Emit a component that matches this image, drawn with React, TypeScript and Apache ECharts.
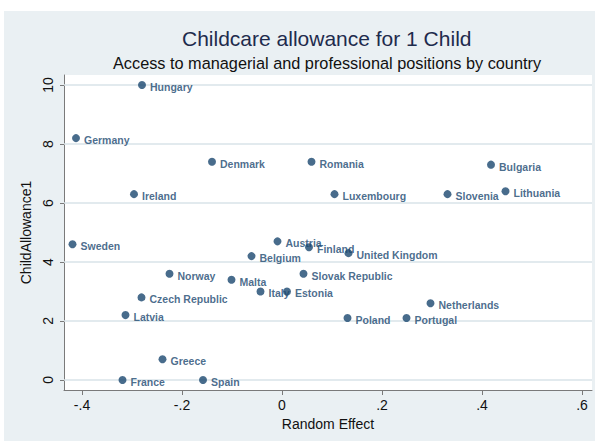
import React, { useEffect, useRef } from "react";
import * as echarts from "echarts";

// Country names, random effect (x) and child allowance (y)
const countries = [
  "Hungary", "Germany", "Denmark", "Ireland", "Romania", "Bulgaria", "Luxembourg",
  "Slovenia", "Lithuania", "Sweden", "Austria", "Finland", "United Kingdom", "Belgium",
  "Slovak Republic", "Malta", "Italy", "Estonia", "Norway", "Czech Republic", "Latvia",
  "Greece", "France", "Spain", "Netherlands", "Poland", "Portugal",
];
const randomEffect = [
  -0.28, -0.412, -0.14, -0.296, 0.059, 0.418, 0.105,
  0.331, 0.447, -0.419, -0.009, 0.054, 0.133, -0.061,
  0.043, -0.101, -0.043, 0.01, -0.225, -0.281, -0.313,
  -0.239, -0.319, -0.158, 0.297, 0.131, 0.249,
];
const childAllowance = [
  10.0, 8.2, 7.4, 6.3, 7.4, 7.3, 6.3,
  6.3, 6.4, 4.6, 4.7, 4.5, 4.3, 4.2,
  3.6, 3.4, 3.0, 3.0, 3.6, 2.8, 2.2,
  0.7, 0.0, 0.0, 2.6, 2.1, 2.1,
];
const xTicks = [-0.4, -0.2, 0, 0.2, 0.4, 0.6];
const yTicks = [0, 2, 4, 6, 8, 10];

// axis ranges (with the usual padding around the data)
const X_MIN = -0.436;
const X_MAX = 0.62;
const Y_MIN = -0.34;
const Y_MAX = 10.34;

const NAVY = "#1a476f";
const FONT = "'Liberation Sans', Arial, Helvetica, sans-serif";

// plot region inside the page
const PLOT = { left: 64, right: 3, top: 75, bottom: 51 };

// Stata-style number labels: drop the leading zero (".2", "-.4")
const fmtTick = (v: number) => {
  if (v === 0) return "0";
  const s = String(Math.round(v * 10) / 10);
  return s.replace(/^(-?)0\./, "$1.");
};

export default function App() {
  const ref = useRef<HTMLDivElement>(null);

  useEffect(() => {
    if (!ref.current) return;
    const chart = echarts.init(ref.current, null, { renderer: "svg" });
    const points = countries.map((c, i) => [randomEffect[i], childAllowance[i], c]);

    // one thin line per labelled y tick, spanning the full x range
    const gridSeries = yTicks.map((v) => ({
      type: "line",
      data: [
        [X_MIN, v],
        [X_MAX, v],
      ],
      symbol: "none",
      silent: true,
      z: 1,
      lineStyle: { color: "#d9e3e8", width: 1.5 },
      tooltip: { show: false },
    }));

    chart.setOption({
      animation: false,
      textStyle: { fontFamily: FONT },
      graphic: [
        {
          type: "rect",
          z: -10,
          silent: true,
          shape: { x: 4, y: 11, width: 591, height: 430 },
          style: { fill: "#eaf0f3" },
        },
        {
          type: "rect",
          z: -9,
          silent: true,
          shape: {
            x: PLOT.left,
            y: PLOT.top,
            width: 595 - PLOT.left - PLOT.right,
            height: 441 - PLOT.top - PLOT.bottom,
          },
          style: { fill: "#ffffff" },
        },
        {
          type: "text",
          left: 182,
          top: 28,
          style: {
            text: "Childcare allowance for 1 Child",
            fill: "#1e2b4d",
            fontSize: 21,
            fontFamily: FONT,
          },
        },
        {
          type: "text",
          left: 113,
          top: 55,
          style: {
            text: "Access to managerial and professional positions by country",
            fill: "#111",
            fontSize: 16.3,
            fontFamily: FONT,
          },
        },
      ],
      grid: { ...PLOT, show: false },
      xAxis: {
        type: "value",
        min: X_MIN,
        max: X_MAX,
        name: "Random Effect",
        nameLocation: "middle",
        nameGap: 27,
        nameTextStyle: { fontSize: 14, color: "#111", fontFamily: FONT },
        axisLine: { show: true, onZero: false, lineStyle: { color: "#7a7a7a", width: 1 } },
        axisTick: { show: true, length: 5, customValues: xTicks, lineStyle: { color: "#7a7a7a" } },
        axisLabel: {
          customValues: xTicks,
          formatter: (v: number) => fmtTick(v),
          fontSize: 14,
          color: "#111",
          margin: 8,
        },
        splitLine: { show: false },
      },
      yAxis: {
        type: "value",
        min: Y_MIN,
        max: Y_MAX,
        name: "ChildAllowance1",
        nameLocation: "middle",
        nameGap: 28,
        nameRotate: 90,
        nameTextStyle: { fontSize: 14, color: "#111", fontFamily: FONT },
        axisLine: { show: true, onZero: false, lineStyle: { color: "#7a7a7a", width: 1 } },
        axisTick: { show: true, length: 4, customValues: yTicks, lineStyle: { color: "#7a7a7a" } },
        axisLabel: {
          customValues: yTicks,
          rotate: 90,
          fontSize: 14,
          color: "#111",
          margin: 9,
          formatter: (v: number) => String(v),
        },
        splitLine: { show: false },
      },
      series: [
        ...gridSeries,
        {
          type: "scatter",
          data: points,
          symbol: "circle",
          symbolSize: 8,
          z: 10,
          itemStyle: { color: NAVY },
          label: {
            show: true,
            position: "right",
            distance: 4,
            offset: [0, 2],
            formatter: (p: any) => p.data[2],
            color: NAVY,
            fontSize: 10.5,
            fontWeight: "bold",
            fontFamily: FONT,
          },
        },
      ],
    });

    return () => chart.dispose();
  }, []);

  return (
    <div
      ref={ref}
      style={{ position: "fixed", left: 0, top: 0, width: 595, height: 441, background: "#fff" }}
    />
  );
}
